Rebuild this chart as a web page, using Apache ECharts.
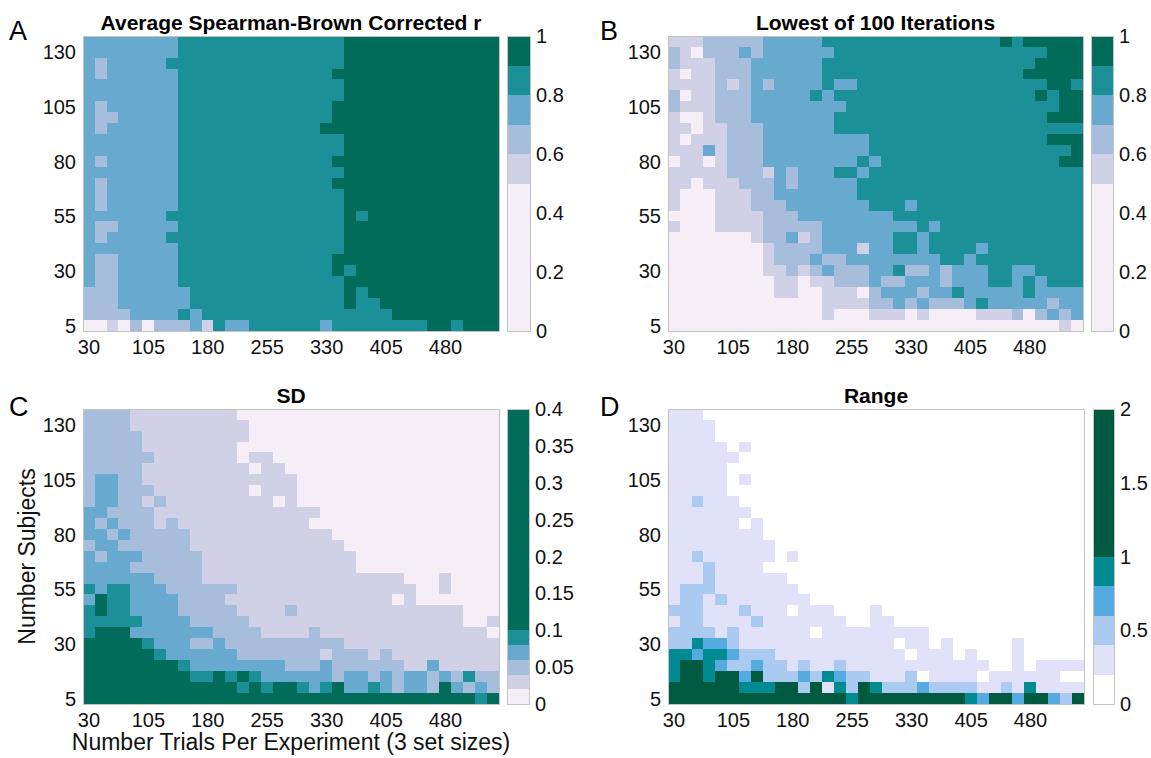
<!DOCTYPE html>
<html><head><meta charset="utf-8">
<script src="https://cdn.jsdelivr.net/npm/echarts@6/dist/echarts.min.js"></script>
<style>html,body{margin:0;padding:0;background:#fff}#c{width:1151px;height:758px}#c svg path{shape-rendering:crispEdges}</style>
</head><body><div id="c"></div>
<script>
// ---- categories ----
const trials = [30,45,60,75,90,105,120,135,150,165,180,195,210,225,240,255,270,285,300,315,330,345,360,375,390,405,420,435,450,465,480,495,510,525,540];
const subjects = [5,10,15,20,25,30,35,40,45,50,55,60,65,70,75,80,85,90,95,100,105,110,115,120,125,130,135];

// ---- cell values, read as colour band (0..5), rows listed top (135 subjects) to bottom (5 subjects) ----
const avgRows = [
"33333 33344 44444 44444 44555 55555 55555",
"33333 33344 44444 44444 44555 55555 55555",
"32333 33444 44444 44444 44555 55555 55555",
"32333 33344 44444 44444 45555 55555 55555",
"33333 33344 44444 44444 44555 55555 55555",
"33333 33344 44444 44444 44555 55555 55555",
"32333 33344 44444 44444 45555 55555 55555",
"32233 33344 44444 44444 45555 55555 55555",
"32333 33344 44444 44444 55555 55555 55555",
"33333 33344 44444 44444 44555 55555 55555",
"33333 33344 44444 44444 44555 55555 55555",
"32333 33344 44444 44444 45555 55555 55555",
"33333 33344 44444 44444 44555 55555 55555",
"32333 33344 44444 44444 45555 55555 55555",
"32333 33344 44444 44444 44555 55555 55555",
"32333 33344 44444 44444 44555 55555 55555",
"33333 33444 44444 44444 44545 55555 55555",
"32233 33344 44444 44444 44555 55555 55555",
"32333 33444 44444 44444 44555 55555 55555",
"33333 33344 44444 44444 44555 55555 55555",
"32233 33344 44444 44444 45555 55555 55555",
"32233 33344 44444 44444 45455 55555 55555",
"32233 33344 44444 44444 44555 55555 55555",
"22233 33334 44444 44444 44545 55555 55555",
"22233 33334 44444 44444 44544 55555 55555",
"22223 33343 44444 44444 44444 45555 55555",
"00102 02223 14334 44444 34444 44445 54555"
];
const lowestRows = [
"11122 22233 33344 44444 44444 44454 55555",
"21022 23233 33334 44444 44444 44444 44555",
"21112 22333 33344 44444 44444 44444 45555",
"10112 22333 33344 44444 44444 44444 55555",
"11112 12323 33343 34444 44444 44444 44554",
"20112 22333 33434 44444 44444 44444 45455",
"21112 22333 33333 44444 44444 44444 44455",
"10012 22333 33334 44444 44444 44444 44555",
"11011 22233 33334 44444 44444 44444 44444",
"10111 22233 33333 33444 44444 44444 44555",
"11131 22233 33333 33444 44444 44444 44445",
"01101 22233 33333 34344 44444 44444 44455",
"11111 22213 23334 43444 44444 44444 44444",
"11011 12223 23333 34444 44444 44444 44444",
"10001 11223 33333 34444 44444 44444 44444",
"10001 11222 33333 33444 34444 44444 44444",
"00001 11122 23333 33334 44444 44444 44444",
"10001 11122 22233 33333 34344 44444 44444",
"00000 00122 31233 33334 43444 44444 44444",
"00000 00012 22233 31334 43444 43444 44444",
"00000 00012 22322 33333 33344 34444 44444",
"00000 00011 21232 22334 22323 33443 34444",
"00000 00001 10112 22322 33323 33443 43444",
"00000 00001 10011 10233 32334 33333 43333",
"00000 00000 00011 11223 23222 34333 33233",
"00000 00000 00010 00111 01000 01112 02323",
"00000 00000 00000 00000 00000 00000 00010"
];
const sdRows = [
"22221 11111 11100 00000 00000 00000 00000",
"22221 11111 11110 00000 00000 00000 00000",
"22222 11111 11110 00000 00000 00000 00000",
"22222 11111 11100 00000 00000 00000 00000",
"22222 21111 11101 10000 00000 00000 00000",
"22222 11111 11110 11000 00000 00000 00000",
"23322 11111 11111 11100 00000 00000 00000",
"23322 21111 11110 11100 00000 00000 00000",
"23322 12111 11111 10100 00000 00000 00000",
"33222 21111 11111 11111 00000 00000 00000",
"32322 21211 11111 11110 00000 00000 00000",
"33232 22221 11111 11111 10000 00000 00000",
"23322 22221 11111 11111 11000 00000 00000",
"32333 22222 11111 11111 11100 00000 00000",
"33332 22222 11111 11111 11100 00000 00000",
"33333 32222 11111 11111 11111 11000 10000",
"43443 33222 22211 11111 11111 11100 10000",
"35443 33322 22111 11111 11111 10100 00000",
"45443 33322 22211 11211 11111 11111 11000",
"44444 33332 22221 11111 11111 11111 11001",
"45553 33333 32222 11112 11111 11111 11110",
"55555 43332 23222 22222 22111 11111 11111",
"55555 54333 33322 22222 12221 21111 11111",
"55555 55543 33333 33222 32222 22113 11111",
"55555 55554 45454 33333 32332 32332 32422",
"55555 55555 55545 45543 45334 32332 53232",
"55555 55555 55555 55555 55555 55555 55545"
];
const rangeRows = [
"11100 00000 00000 00000 00000 00000 00000",
"11110 00000 00000 00000 00000 00000 00000",
"11110 00000 00000 00000 00000 00000 00000",
"11111 01000 00000 00000 00000 00000 00000",
"11111 10000 00000 00000 00000 00000 00000",
"11111 00000 00000 00000 00000 00000 00000",
"11111 01000 00000 00000 00000 00000 00000",
"11111 00000 00000 00000 00000 00000 00000",
"11211 10000 00000 00000 00000 00000 00000",
"11111 11000 00000 00000 00000 00000 00000",
"11111 10100 00000 00000 00000 00000 00000",
"11111 11100 00000 00000 00000 00000 00000",
"11111 11110 00000 00000 00000 00000 00000",
"11211 11110 10000 00000 00000 00000 00000",
"11121 11100 00000 00000 00000 00000 00000",
"11121 11111 00000 00000 00000 00000 00000",
"12221 11111 10000 00000 00000 00000 00000",
"12212 11111 11000 00000 00000 00000 00000",
"22211 12111 01110 00100 00000 00000 00000",
"12211 11211 11111 00110 00000 00000 00000",
"22221 21111 11011 11111 11000 00000 00000",
"22433 21111 11111 11110 11010 00001 00000",
"44344 32221 11111 11111 01110 10001 00000",
"45543 22322 12112 11111 11111 11001 01111",
"45545 53522 23243 22111 20111 10111 11100",
"55555 54445 52514 25422 23222 21121 41111",
"55555 55555 55555 45555 55555 43553 55325"
];

// value that each colour band stands for (estimated band centres)
const avgLevelValues = [0.4, 0.55, 0.65, 0.75, 0.85, 0.95];
const lowestLevelValues = [0.4, 0.55, 0.65, 0.75, 0.85, 0.95];
const sdLevelValues = [0.01, 0.03, 0.05, 0.07, 0.09, 0.2];
const rangeLevelValues = [0.1, 0.3, 0.5, 0.7, 0.9, 1.4];

// colour-scale band edges
const corrEdges = [0, 0.5, 0.6, 0.7, 0.8, 0.9, 1];
const sdEdges = [0, 0.02, 0.04, 0.06, 0.08, 0.1, 0.4];
const rangeEdges = [0, 0.2, 0.4, 0.6, 0.8, 1, 2];

const puBuGn = ['#f5eef6', '#d0d1e6', '#a6bddb', '#67a9cf', '#1c9099', '#016c59'];
const rangeColors = ['#ffffff', '#e1e1fa', '#abcaf2', '#55abe0', '#008b92', '#005a40'];

const FONT = '"Liberation Sans", Arial, Helvetica, sans-serif';

const panels = [
  {letter:'A', title:'Average Spearman-Brown Corrected r', rows:avgRows, levels:avgLevelValues, edges:corrEdges, colors:puBuGn, tick:0.2,
   plot:[83,36,416,295], bar:[507,36,23,295], letterPos:[9,31], titleY:22},
  {letter:'B', title:'Lowest of 100 Iterations', rows:lowestRows, levels:lowestLevelValues, edges:corrEdges, colors:puBuGn, tick:0.2,
   plot:[668,36,415,295], bar:[1091,36,22,295], letterPos:[600,31], titleY:22},
  {letter:'C', title:'SD', rows:sdRows, levels:sdLevelValues, edges:sdEdges, colors:puBuGn, tick:0.05,
   plot:[83,409,416,295], bar:[507,409,22,295], letterPos:[9,407], titleY:395},
  {letter:'D', title:'Range', rows:rangeRows, levels:rangeLevelValues, edges:rangeEdges, colors:rangeColors, tick:0.5,
   plot:[668,409,416,295], bar:[1093,409,21,295], letterPos:[600,407], titleY:395}
];

const option = {
  animation:false,
  backgroundColor:'#ffffff',
  textStyle:{fontFamily:FONT},
  grid:[], xAxis:[], yAxis:[], series:[], visualMap:[], graphic:[]
};

const labelStyle = {fontSize:20, color:'#111', fontFamily:FONT};

panels.forEach((p, i) => {
  const data = [];
  p.rows.forEach((rowStr, t) => {
    const row = rowStr.replace(/\s/g, '');
    if (row.length !== trials.length) throw new Error('panel ' + p.letter + ' row ' + t + ' has ' + row.length);
    const yi = subjects.length - 1 - t;
    for (let c = 0; c < row.length; c++) data.push([c, yi, p.levels[+row[c]]]);
  });
  if (p.rows.length !== subjects.length) throw new Error('panel ' + p.letter + ' rows ' + p.rows.length);

  option.grid.push({left:p.plot[0], top:p.plot[1], width:p.plot[2], height:p.plot[3]});
  const isC = p.letter === 'C';
  option.xAxis.push({
    type:'category', gridIndex:i, data:trials.map(String),
    axisLine:{show:false}, axisTick:{show:false}, splitLine:{show:false},
    axisLabel:Object.assign({interval:4, margin:6}, labelStyle),
    name: isC ? 'Number Trials Per Experiment (3 set sizes)' : '',
    nameLocation:'middle', nameGap:24,
    nameTextStyle:{fontSize:23, color:'#111', fontFamily:FONT}
  });
  option.yAxis.push({
    type:'category', gridIndex:i, data:subjects.map(String),
    axisLine:{show:false}, axisTick:{show:false}, splitLine:{show:false},
    axisLabel:Object.assign({interval:4, margin:7}, labelStyle),
    name: isC ? 'Number Subjects' : '',
    nameLocation:'middle', nameGap:45, nameRotate:90,
    nameTextStyle:{fontSize:23, color:'#111', fontFamily:FONT}
  });
  option.series.push({
    type:'heatmap', xAxisIndex:i, yAxisIndex:i, data:data,
    progressive:0, silent:true, emphasis:{disabled:true},
    itemStyle:{borderWidth:0}
  });
  option.visualMap.push({
    type:'piecewise', show:false, seriesIndex:i, dimension:2,
    pieces:p.colors.map((col, b) => ({min:p.edges[b], max:p.edges[b+1], color:col}))
  });
});

// colour bars
panels.forEach((p, i) => {
  const gi = panels.length + i;
  option.grid.push({left:p.bar[0], top:p.bar[1], width:p.bar[2], height:p.bar[3]});
  option.xAxis.push({type:'category', gridIndex:gi, data:[''], show:false});
  option.yAxis.push({
    type:'value', gridIndex:gi, position:'right', min:p.edges[0], max:p.edges[p.edges.length-1], interval:p.tick,
    axisLine:{show:false}, splitLine:{show:false},
    axisTick:{show:true, inside:true, length:4, lineStyle:{color:'#777'}},
    axisLabel:Object.assign({margin:6}, labelStyle)
  });
  p.colors.forEach((col, b) => {
    option.series.push({
      type:'bar', xAxisIndex:gi, yAxisIndex:gi, stack:'cb' + i, barWidth:'100%',
      data:[p.edges[b+1] - p.edges[b]], silent:true, emphasis:{disabled:true},
      itemStyle:{color:col}
    });
  });
});

// titles, panel letters and frames
panels.forEach((p) => {
  option.graphic.push({
    type:'text', x:p.plot[0] + p.plot[2] / 2, y:p.titleY, silent:true,
    style:{text:p.title, font:'bold 21px ' + FONT, fill:'#000', textAlign:'center', align:'center', textVerticalAlign:'middle', verticalAlign:'middle'}
  });
  option.graphic.push({
    type:'text', x:p.letterPos[0], y:p.letterPos[1], silent:true,
    style:{text:p.letter, font:'27px ' + FONT, fill:'#000', textAlign:'left', align:'left', textVerticalAlign:'middle', verticalAlign:'middle'}
  });
  [p.plot, p.bar].forEach((r) => {
    option.graphic.push({
      type:'rect', silent:true, z:100,
      shape:{x:r[0], y:r[1], width:r[2], height:r[3]},
      style:{fill:'none', stroke:'#c4c4c4', lineWidth:1}
    });
  });
});

const chart = echarts.init(document.getElementById('c'), null, {renderer:'svg'});
chart.setOption(option);
</script>
</body></html>
